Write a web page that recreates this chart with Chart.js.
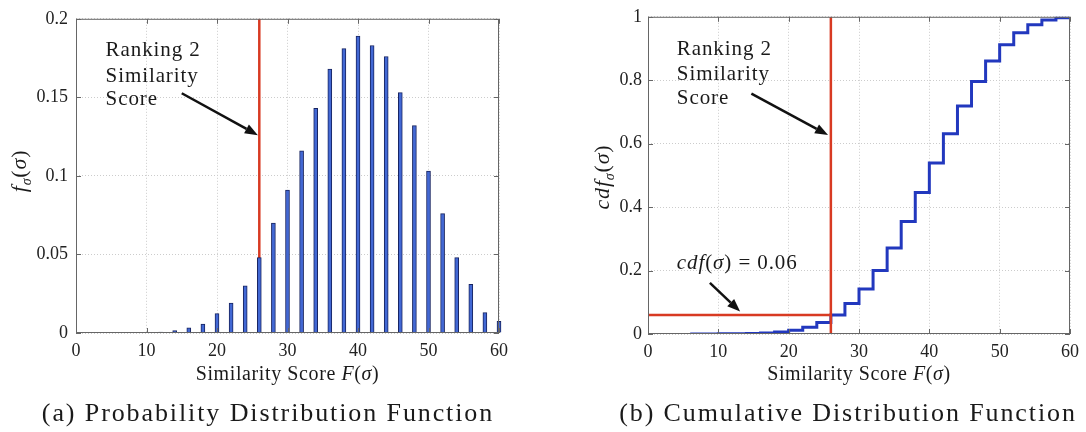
<!DOCTYPE html>
<html>
<head>
<meta charset="utf-8">
<script src="https://cdn.jsdelivr.net/npm/chart.js@4.4.1/dist/chart.umd.min.js"></script>
<style>
  body { margin: 0; background: #fff; width: 1086px; height: 432px; overflow: hidden; position: relative; }
  canvas { position: absolute; top: 0; }
  #pdf { left: 0; }
  #cdf { left: 545px; }
</style>
</head>
<body>
<canvas id="pdf" width="540" height="432"></canvas>
<canvas id="cdf" width="541" height="432"></canvas>
<script>
// Similarity scores (bin centres)
const scores = [6, 8, 10, 12, 14, 16, 18, 20, 22, 24, 26, 28, 30, 32, 34, 36, 38, 40, 42, 44, 46, 48, 50, 52, 54, 56, 58, 60];
// probability distribution f(sigma)
const pdfValues = [0.0002, 0.0003, 0.0004, 0.0006, 0.0015, 0.0033, 0.0056, 0.0123, 0.019, 0.030, 0.048, 0.070, 0.091, 0.116,
                   0.143, 0.168, 0.181, 0.189, 0.183, 0.176, 0.153, 0.132, 0.103, 0.076, 0.048, 0.031, 0.013, 0.0075];
// cumulative distribution cdf(sigma)
const cdfValues = [0.0001, 0.0003, 0.0005, 0.0008, 0.0015, 0.003, 0.006, 0.012, 0.021, 0.036, 0.060, 0.096, 0.142, 0.200,
                   0.271, 0.355, 0.446, 0.539, 0.631, 0.719, 0.796, 0.861, 0.912, 0.950, 0.975, 0.990, 0.997, 1.0];
const rankScore = 26;
const rankCdf = 0.06;

const xTicks = [0, 10, 20, 30, 40, 50, 60];
const pdfTicks = [0, 0.05, 0.1, 0.15, 0.2];
const cdfTicks = [0, 0.2, 0.4, 0.6, 0.8, 1];

const serif = '"Liberation Serif", "Times New Roman", serif';
const rm = px => px + 'px ' + serif;
const it = px => 'italic ' + px + 'px ' + serif;
const RED = 'rgb(216, 58, 34)';

// draw a row of text pieces: [text, font, dy]
function drawRich(ctx, parts, x, y, align, spacing) {
  ctx.letterSpacing = (spacing || 0) + 'px';
  let w = 0;
  parts.forEach(p => { ctx.font = p[1]; w += ctx.measureText(p[0]).width; });
  let cx = align === 'center' ? x - w / 2 : x;
  parts.forEach(p => {
    ctx.font = p[1];
    ctx.fillText(p[0], cx, y + (p[2] || 0));
    cx += ctx.measureText(p[0]).width;
  });
  ctx.letterSpacing = '0px';
}

function arrow(ctx, x1, y1, x2, y2) {
  const a = Math.atan2(y2 - y1, x2 - x1), L = 13, W = 5;
  const bx = x2 - L * Math.cos(a), by = y2 - L * Math.sin(a);
  ctx.strokeStyle = '#111';
  ctx.fillStyle = '#111';
  ctx.lineWidth = 2.5;
  ctx.beginPath(); ctx.moveTo(x1, y1); ctx.lineTo(bx, by); ctx.stroke();
  ctx.beginPath();
  ctx.moveTo(x2, y2);
  ctx.lineTo(bx + W * Math.sin(a), by - W * Math.cos(a));
  ctx.lineTo(bx - W * Math.sin(a), by + W * Math.cos(a));
  ctx.closePath(); ctx.fill();
}

// frame, inner ticks, titles, annotations and caption
function decor(cfg) {
  return {
    id: 'decor',
    afterDraw(chart) {
      const ctx = chart.ctx, a = chart.chartArea;
      const xs = chart.scales.x, ys = chart.scales.y;
      ctx.save();
      ctx.strokeStyle = '#666';
      ctx.lineWidth = 1;
      ctx.strokeRect(a.left + 0.5, a.top + 0.5, a.right - a.left - 1, a.bottom - a.top - 1);
      ctx.beginPath();
      xTicks.forEach(v => {
        const px = Math.round(xs.getPixelForValue(v)) + 0.5;
        ctx.moveTo(px, a.bottom); ctx.lineTo(px, a.bottom - 5);
        ctx.moveTo(px, a.top); ctx.lineTo(px, a.top + 5);
      });
      cfg.yTicks.forEach(v => {
        const py = Math.round(ys.getPixelForValue(v)) + 0.5;
        ctx.moveTo(a.left, py); ctx.lineTo(a.left + 5, py);
        ctx.moveTo(a.right, py); ctx.lineTo(a.right - 5, py);
      });
      ctx.stroke();

      ctx.fillStyle = '#1a1a1a';
      ctx.textBaseline = 'alphabetic';
      ctx.textAlign = 'left';
      // x title
      drawRich(ctx, [['Similarity Score ', rm(20)], ['F', it(20)], ['(', rm(20)], ['σ', it(20)], [')', rm(20)]],
        (a.left + a.right) / 2, 380, 'center', 0.6);
      // y title (rotated)
      ctx.save();
      ctx.translate(a.left + cfg.yTitleDx, cfg.yTitleY);
      ctx.rotate(-Math.PI / 2);
      drawRich(ctx, cfg.yTitle, 0, 0, 'center', 0.8);
      ctx.restore();
      // annotation text
      cfg.labels.forEach(l => {
        drawRich(ctx, l.parts, xs.getPixelForValue(l.x), ys.getPixelForValue(l.y), 'left', 0.9);
      });
      cfg.arrows.forEach(r => {
        arrow(ctx, xs.getPixelForValue(r[0]), ys.getPixelForValue(r[1]), xs.getPixelForValue(r[2]), ys.getPixelForValue(r[3]));
      });
      // caption
      ctx.fillStyle = '#1a1a1a';
      drawRich(ctx, [[cfg.caption, rm(26)]], cfg.captionX, 421, 'center', 1.9);
      ctx.restore();
    }
  };
}

function makeChart(id, type, datasets, o) {
  return new Chart(document.getElementById(id), {
    type: type,
    data: { datasets: datasets },
    options: {
      responsive: false,
      animation: false,
      layout: { padding: { left: 0, right: o.padRight, top: 12, bottom: 0 } },
      plugins: { legend: { display: false }, tooltip: { enabled: false } },
      scales: {
        x: {
          type: 'linear', min: 0, max: 60, offset: false,
          afterBuildTicks: s => { s.ticks = xTicks.map(v => ({ value: v })); },
          afterFit: s => { s.height = o.xHeight; },
          grid: { color: '#cccccc', drawTicks: false, offset: false },
          border: { display: false, dash: [1, 2] },
          ticks: { padding: 7, color: '#222', font: { family: serif, size: 18 }, maxRotation: 0 }
        },
        y: {
          type: 'linear', min: 0, max: o.yMax,
          afterBuildTicks: s => { s.ticks = o.yTicks.map(v => ({ value: v })); },
          afterFit: s => { s.width = o.yWidth; },
          grid: { color: '#cccccc', drawTicks: false },
          border: { display: false, dash: [1, 2] },
          ticks: { padding: o.yPad, color: '#222', font: { family: serif, size: 18 }, callback: v => String(v) }
        }
      }
    },
    plugins: [decor(o.decor)]
  });
}

// (a) probability distribution
makeChart('pdf', 'bar', [
  {
    type: 'bar',
    data: scores.map((x, i) => ({ x: x, y: pdfValues[i] })),
    backgroundColor: 'rgb(66, 104, 212)',
    borderColor: 'rgb(24, 36, 96)',
    borderWidth: 1,
    barThickness: 4,
    clip: false,
    order: 0
  },
  {
    type: 'line',
    data: [{ x: rankScore, y: 0 }, { x: rankScore, y: 0.2 }],
    borderColor: RED, borderWidth: 2.5, pointRadius: 0, order: 1
  }
], {
  padRight: 41, xHeight: 99, yWidth: 76, yPad: 8, yMax: 0.2, yTicks: pdfTicks,
  decor: {
    yTicks: pdfTicks,
    yTitle: [['f', it(22)], ['σ', it(14), 5], ['(', rm(22)], ['σ', it(22)], [')', rm(22)]],
    yTitleDx: -50, yTitleY: 171,
    labels: [
      { parts: [['Ranking 2', rm(21)]], x: 4.2, y: 0.1763 },
      { parts: [['Similarity', rm(21)]], x: 4.2, y: 0.1595 },
      { parts: [['Score', rm(21)]], x: 4.2, y: 0.1452 }
    ],
    arrows: [[15.0, 0.1526, 25.8, 0.1259]],
    caption: '(a) Probability Distribution Function',
    captionX: 268
  }
});

// (b) cumulative distribution
makeChart('cdf', 'line', [
  {
    data: [{ x: 0, y: rankCdf }, { x: rankScore, y: rankCdf }],
    borderColor: RED, borderWidth: 2.5, pointRadius: 0, order: 0
  },
  {
    data: [{ x: rankScore, y: 0 }, { x: rankScore, y: 1 }],
    borderColor: RED, borderWidth: 2.5, pointRadius: 0, order: 0
  },
  {
    data: scores.map((x, i) => ({ x: x, y: cdfValues[i] })),
    stepped: true,
    borderColor: 'rgb(34, 56, 190)', borderWidth: 3, pointRadius: 0, order: 1
  }
], {
  padRight: 13, xHeight: 98, yWidth: 103, yPad: 6, yMax: 1, yTicks: cdfTicks,
  decor: {
    yTicks: cdfTicks,
    yTitle: [['cdf', it(22)], ['σ', it(14), 5], ['(', rm(22)], ['σ', it(22)], [')', rm(22)]],
    yTitleDx: -39, yTitleY: 177,
    labels: [
      { parts: [['Ranking 2', rm(21)]], x: 4.1, y: 0.879 },
      { parts: [['Similarity', rm(21)]], x: 4.1, y: 0.801 },
      { parts: [['Score', rm(21)]], x: 4.1, y: 0.724 },
      { parts: [['cdf', it(21)], ['(', rm(21)], ['σ', it(21)], [') = 0.06', rm(21)]], x: 4.1, y: 0.205 }
    ],
    arrows: [[14.7, 0.758, 25.6, 0.627], [8.8, 0.161, 13.1, 0.071]],
    caption: '(b) Cumulative Distribution Function',
    captionX: 303
  }
});
</script>
</body>
</html>
